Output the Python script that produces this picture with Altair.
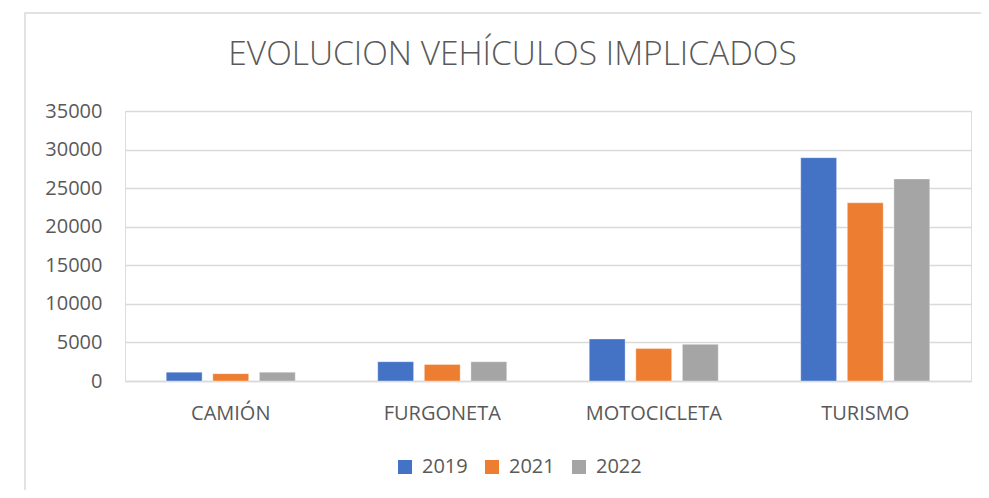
import altair as alt
import pandas as pd

categories = ["CAMIÓN", "FURGONETA", "MOTOCICLETA", "TURISMO"]
years = ["2019", "2021", "2022"]
values_2019 = [1150, 2500, 5450, 28950]
values_2021 = [950, 2150, 4200, 23100]
values_2022 = [1150, 2500, 4750, 26200]
colors = ["#4472C4", "#ED7D31", "#A5A5A5"]
title_text = "EVOLUCION VEHÍCULOS IMPLICADOS"

rows = []
for yr, vals in zip(years, [values_2019, values_2021, values_2022]):
    for c, v in zip(categories, vals):
        rows.append({"categoria": c, "anio": yr, "valor": v})
df = pd.DataFrame(rows)

FONT = "Open Sans"
GREY = "#595959"

bars = alt.Chart(df).mark_bar(stroke="#ffffff", strokeWidth=0.6, strokeOpacity=0.6).encode(
    x=alt.X("categoria:N", sort=categories, title=None,
            scale=alt.Scale(paddingInner=0.39, paddingOuter=0.195),
            axis=alt.Axis(labelAngle=0, labelFont=FONT, labelFontSize=20, labelColor=GREY,
                          ticks=False, domain=True, domainColor="#d9d9d9", domainWidth=1.5,
                          labelPadding=22, grid=False)),
    xOffset=alt.XOffset("anio:N", sort=years, scale=alt.Scale(paddingInner=0.23, paddingOuter=0)),
    y=alt.Y("valor:Q", title=None,
            scale=alt.Scale(domain=[0, 35000], nice=False),
            axis=alt.Axis(values=[0, 5000, 10000, 15000, 20000, 25000, 30000, 35000],
                          format="d", labelFont=FONT, labelFontSize=20, labelColor=GREY,
                          ticks=False, domain=False, gridColor="#d9d9d9", gridWidth=1.3,
                          labelPadding=23)),
    color=alt.Color("anio:N", sort=years, scale=alt.Scale(domain=years, range=colors),
                    legend=alt.Legend(title=None, orient="none", direction="horizontal",
                                      legendX=270, legendY=346,
                                      symbolType="square", symbolSize=196, symbolStrokeWidth=0,
                                      labelFont=FONT, labelFontSize=20, labelColor=GREY,
                                      labelOffset=7, columnPadding=14)),
)

frame = alt.Chart(alt.Data(values=[{"a": 1}])).mark_rect(
    fill=None, stroke="#d9d9d9", strokeWidth=1.5
).encode(
    x=alt.value(-100), x2=alt.value(1100), y=alt.value(-98), y2=alt.value(700)
)

title = alt.Chart(alt.Data(values=[{"t": title_text}])).mark_text(
    font=FONT, fontSize=33.5, fontWeight=300, color=GREY, align="center", baseline="alphabetic"
).encode(
    text="t:N", x=alt.value(387.5), y=alt.value(-46)
)

chart = alt.layer(frame, bars, title).properties(
    width=846,
    height=270,
    autosize=alt.AutoSizeParams(type="none"),
    padding={"left": 117, "top": 103, "right": 10, "bottom": 109},
).configure_view(stroke=None).configure(background="white")

chart.save("out.html", embed_options={"renderer": "svg", "actions": False})
